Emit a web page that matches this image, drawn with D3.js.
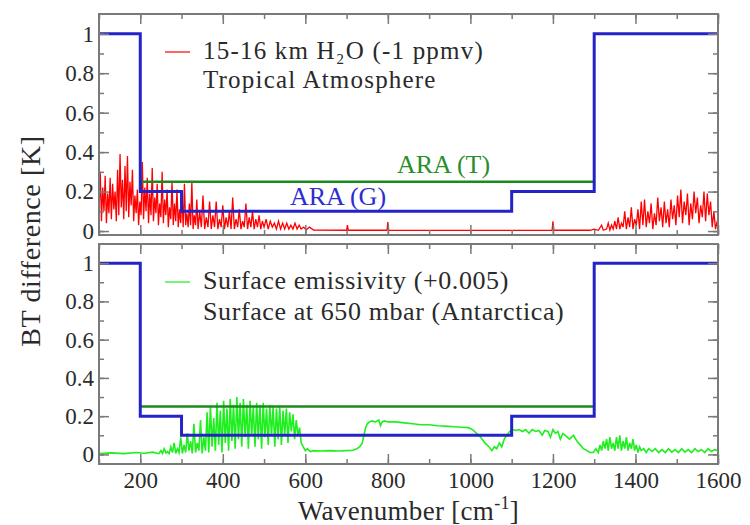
<!DOCTYPE html>
<html>
<head>
<meta charset="utf-8">
<script src="https://cdn.jsdelivr.net/npm/d3@7"></script>
<style>
  body { margin: 0; background: #fff; }
  svg text { font-family: 'Liberation Serif', 'DejaVu Serif', 'Noto Serif', serif; }
</style>
</head>
<body>
<svg id="chart" width="750" height="525"></svg>
<script>
// ---- data ----
var xTicks = [200, 400, 600, 800, 1000, 1200, 1400, 1600];
var yTicks = [0, 0.2, 0.4, 0.6, 0.8, 1];

// ARA (G) step requirement, [from, to, value]
var araG = [[100, 200, 1], [200, 300, 0.2], [300, 1100, 0.1], [1100, 1300, 0.2], [1300, 1600, 1]];
// ARA (T) step requirement
var araT = [[200, 1300, 0.25]];

// 15-16 km H2O (-1 ppmv), tropical atmosphere  [wavenumber, BT difference]
var redSpectrum = [
  [100,0.08],[103,0.30],[106,0.05],[109,0.22],[112,0.10],[115,0.28],[118,0.04],[121,0.19],[124,0.09],[127,0.27],
  [130,0.06],[133,0.24],[136,0.11],[139,0.20],[142,0.05],[145,0.31],[148,0.08],[151,0.39],[154,0.12],[157,0.26],
  [160,0.06],[163,0.33],[166,0.10],[169,0.38],[172,0.07],[175,0.25],[178,0.13],[181,0.31],[184,0.05],[187,0.18],
  [190,0.09],[193,0.21],[196,0.03],[199,0.15],[202,0.08],[205,0.35],[208,0.06],[211,0.22],[214,0.10],[217,0.27],
  [220,0.04],[223,0.19],[226,0.08],[229,0.32],[232,0.05],[235,0.17],[238,0.09],[241,0.24],[244,0.03],[247,0.14],
  [250,0.07],[253,0.30],[256,0.04],[259,0.16],[262,0.08],[265,0.21],[268,0.02],[271,0.12],[274,0.06],[277,0.25],
  [280,0.03],[283,0.14],[286,0.05],[289,0.21],[292,0.02],[295,0.11],[298,0.04],[301,0.18],[304,0.02],[307,0.24],
  [310,0.03],[313,0.09],[316,0.02],[319,0.14],[322,0.03],[325,0.25],[328,0.01],[331,0.08],[334,0.03],[337,0.16],
  [340,0.01],[344,0.10],[348,0.02],[352,0.18],[356,0.01],[360,0.07],[364,0.02],[368,0.15],[372,0.01],[376,0.08],
  [380,0.02],[384,0.15],[388,0.01],[392,0.06],[396,0.02],[400,0.13],[404,0.01],[408,0.07],[412,0.02],[416,0.10],
  [420,0.01],[424,0.17],[428,0.01],[432,0.06],[436,0.02],[440,0.11],[444,0.01],[448,0.05],[452,0.02],[456,0.14],
  [460,0.01],[464,0.07],[468,0.02],[472,0.10],[476,0.01],[480,0.06],[484,0.02],[488,0.08],[492,0.01],[496,0.05],
  [500,0.02],[505,0.06],[510,0.01],[515,0.05],[520,0.02],[525,0.04],[530,0.01],[535,0.05],[540,0.01],[545,0.04],
  [550,0.01],[555,0.04],[560,0.01],[565,0.03],[570,0.01],[575,0.04],[580,0.01],[585,0.03],[590,0.01],[596,0.02],
  [602,0.005],[610,0.02],[620,0.005],[700,0.004],[702,0.03],[704,0.004],[798,0.004],[800,0.045],[802,0.004],
  [1100,0.003],[1198,0.004],[1200,0.05],[1202,0.004],[1290,0.004],[1300,0.01],[1310,0.004],[1318,0.03],[1322,0.004],
  [1330,0.01],[1334,0.04],[1338,0.005],[1342,0.03],[1346,0.01],[1350,0.05],[1354,0.01],[1358,0.07],[1362,0.01],[1366,0.04],
  [1370,0.02],[1374,0.10],[1378,0.01],[1382,0.07],[1386,0.02],[1390,0.12],[1394,0.01],[1398,0.06],[1402,0.03],[1406,0.11],
  [1410,0.01],[1414,0.15],[1418,0.03],[1422,0.16],[1426,0.02],[1430,0.10],[1434,0.04],[1438,0.14],[1442,0.01],[1446,0.09],
  [1450,0.03],[1454,0.17],[1458,0.05],[1462,0.12],[1466,0.02],[1470,0.15],[1474,0.04],[1478,0.11],[1482,0.02],[1486,0.16],
  [1490,0.06],[1494,0.13],[1498,0.03],[1502,0.18],[1506,0.07],[1510,0.21],[1514,0.04],[1518,0.15],[1522,0.08],[1526,0.19],
  [1530,0.03],[1534,0.14],[1538,0.06],[1542,0.20],[1546,0.09],[1550,0.17],[1554,0.04],[1558,0.13],[1562,0.07],[1566,0.20],
  [1570,0.05],[1574,0.19],[1578,0.08],[1582,0.15],[1586,0.02],[1590,0.10],[1594,0.01],[1597,0.04],[1600,0.02]
];

// surface emissivity (+0.005), surface at 650 mbar (Antarctica)
var greenSpectrum = [
  [100,0.005],[130,0.008],[160,0.004],[190,0.01],[210,0.006],[230,0.012],[245,0.004],[250,0.02],[254,0.005],[258,0.03],
  [262,0.008],[266,0.015],[270,0.004],[274,0.04],[278,0.01],[282,0.06],[286,0.005],[290,0.03],[294,0.01],[298,0.09],
  [302,0.005],[306,0.05],[310,0.01],[314,0.11],[318,0.02],[322,0.07],[326,0.005],[330,0.16],[334,0.01],[338,0.06],
  [342,0.02],[346,0.18],[350,0.005],[354,0.09],[358,0.02],[362,0.22],[366,0.01],[370,0.25],[374,0.04],[378,0.19],
  [382,0.02],[386,0.27],[390,0.05],[394,0.23],[398,0.01],[402,0.28],[406,0.06],[410,0.24],[414,0.02],[418,0.29],
  [422,0.07],[426,0.26],[430,0.03],[434,0.30],[438,0.08],[442,0.27],[446,0.04],[450,0.29],[454,0.09],[458,0.26],
  [462,0.03],[466,0.28],[470,0.10],[474,0.25],[478,0.04],[482,0.27],[486,0.08],[490,0.26],[494,0.03],[498,0.27],
  [502,0.09],[506,0.24],[510,0.05],[514,0.26],[518,0.10],[522,0.25],[526,0.04],[530,0.24],[534,0.08],[538,0.25],
  [542,0.05],[546,0.23],[550,0.10],[554,0.24],[558,0.06],[562,0.22],[566,0.12],[570,0.21],[574,0.08],[578,0.18],
  [582,0.10],[586,0.14],[590,0.06],[595,0.04],[600,0.02],[605,0.03],[612,0.015],[620,0.02],[640,0.018],[660,0.02],
  [680,0.018],[700,0.02],[715,0.022],[725,0.03],[732,0.04],[738,0.06],[742,0.10],[746,0.14],[750,0.16],[755,0.17],
  [762,0.175],[770,0.17],[778,0.18],[782,0.15],[786,0.17],[792,0.175],[800,0.17],[820,0.17],[840,0.165],[860,0.16],
  [880,0.155],[900,0.155],[920,0.15],[940,0.148],[960,0.145],[980,0.142],[995,0.14],[1005,0.13],[1015,0.11],[1025,0.09],
  [1035,0.06],[1045,0.04],[1052,0.02],[1058,0.04],[1064,0.03],[1070,0.06],[1076,0.04],[1082,0.08],[1088,0.10],[1095,0.12],
  [1102,0.13],[1110,0.125],[1118,0.13],[1126,0.12],[1134,0.13],[1142,0.11],[1150,0.13],[1158,0.12],[1166,0.125],[1174,0.10],
  [1180,0.125],[1188,0.12],[1194,0.09],[1200,0.13],[1206,0.11],[1212,0.12],[1218,0.08],[1224,0.11],[1230,0.10],[1240,0.08],
  [1250,0.10],[1258,0.07],[1266,0.05],[1274,0.03],[1282,0.02],[1290,0.01],[1298,0.01],[1304,0.03],[1310,0.01],[1314,0.05],
  [1318,0.02],[1322,0.07],[1326,0.03],[1330,0.08],[1334,0.02],[1338,0.09],[1342,0.03],[1346,0.06],[1350,0.02],[1354,0.09],
  [1358,0.03],[1362,0.10],[1366,0.02],[1370,0.07],[1374,0.03],[1378,0.09],[1382,0.02],[1386,0.06],[1390,0.03],[1394,0.08],
  [1398,0.02],[1402,0.05],[1406,0.01],[1410,0.04],[1414,0.02],[1420,0.03],[1426,0.01],[1432,0.03],[1440,0.015],[1448,0.03],
  [1456,0.01],[1464,0.025],[1472,0.01],[1480,0.03],[1488,0.012],[1496,0.025],[1504,0.01],[1512,0.03],[1520,0.012],[1528,0.025],
  [1536,0.01],[1544,0.03],[1552,0.015],[1560,0.025],[1568,0.01],[1576,0.03],[1584,0.015],[1592,0.025],[1600,0.02]
];

var svg = d3.select("#chart");
var serif = "'Liberation Serif', 'DejaVu Serif', 'Noto Serif', serif";
var left = 99, right = 718;
var frameColor = "#7a7a7a", textColor = "#2a2a2a";

var x = d3.scaleLinear().domain([100, 1600]).range([left, right]);

// turn [from,to,value] steps into a polyline
function stepPoints(steps) {
  var pts = [];
  steps.forEach(function (s) { pts.push([s[0], s[2]]); pts.push([s[1], s[2]]); });
  return pts;
}

function drawPanel(top, bottom, yDomain, series, seriesColor, seriesWidth, id, showXLabels) {
  var y = d3.scaleLinear().domain(yDomain).range([bottom, top]);
  var g = svg.append("g");

  g.append("clipPath").attr("id", id).append("rect")
    .attr("x", left).attr("y", top).attr("width", right - left).attr("height", bottom - top);

  var line = d3.line().x(function (d) { return x(d[0]); }).y(function (d) { return y(d[1]); });
  var plot = g.append("g").attr("clip-path", "url(#" + id + ")");

  plot.append("path").datum(series)
    .attr("d", line).attr("fill", "none").attr("stroke", seriesColor).attr("stroke-width", seriesWidth);

  plot.append("path").datum(stepPoints(araT))
    .attr("d", line).attr("fill", "none").attr("stroke", "#1d8a1d").attr("stroke-width", 2.5);
  plot.append("path").datum(stepPoints(araG))
    .attr("d", line).attr("fill", "none").attr("stroke", "#2323c8").attr("stroke-width", 3);

  // axes, ticks pointing inward on all four sides
  var minorX = d3.range(100, 1601, 100), minorY = d3.range(0, 1.01, 0.1);
  function styleAxis(sel) {
    sel.attr("font-family", serif);
    sel.select(".domain").remove();
    sel.selectAll("line").attr("stroke", frameColor).attr("stroke-width", 1.5);
    sel.selectAll("text").attr("fill", textColor).attr("font-size", 23).style("font-family", serif);
  }
  g.append("g").attr("transform", "translate(0," + bottom + ")")
    .call(d3.axisBottom(x).tickValues(minorX).tickSize(-5).tickFormat("")).call(styleAxis);
  g.append("g").attr("transform", "translate(0," + bottom + ")")
    .call(d3.axisBottom(x).tickValues(xTicks).tickSize(-10).tickPadding(8)
      .tickFormat(showXLabels ? d3.format("d") : "")).call(styleAxis);
  g.append("g").attr("transform", "translate(0," + top + ")")
    .call(d3.axisTop(x).tickValues(minorX).tickSize(-5).tickFormat("")).call(styleAxis);
  g.append("g").attr("transform", "translate(0," + top + ")")
    .call(d3.axisTop(x).tickValues(xTicks).tickSize(-10).tickFormat("")).call(styleAxis);
  g.append("g").attr("transform", "translate(" + left + ",0)")
    .call(d3.axisLeft(y).tickValues(minorY).tickSize(-5).tickFormat("")).call(styleAxis);
  g.append("g").attr("transform", "translate(" + left + ",0)")
    .call(d3.axisLeft(y).tickValues(yTicks).tickSize(-10).tickPadding(5)
      .tickFormat(function (d) { return String(+d.toFixed(1)); })).call(styleAxis);
  g.append("g").attr("transform", "translate(" + right + ",0)")
    .call(d3.axisRight(y).tickValues(minorY).tickSize(-5).tickFormat("")).call(styleAxis);
  g.append("g").attr("transform", "translate(" + right + ",0)")
    .call(d3.axisRight(y).tickValues(yTicks).tickSize(-10).tickFormat("")).call(styleAxis);

  g.append("rect").attr("x", left).attr("y", top).attr("width", right - left).attr("height", bottom - top)
    .attr("fill", "none").attr("stroke", frameColor).attr("stroke-width", 2);

  return y;
}

drawPanel(14, 235, [-0.02, 1.1], redSpectrum, "#ff0000", 1.3, "clipTop", false);
drawPanel(244, 464, [-0.05, 1.1], greenSpectrum, "#1fef1f", 1.6, "clipBot", true);

function label(xp, yp, size, color, txt) {
  return svg.append("text").attr("x", xp).attr("y", yp).attr("font-size", size)
    .attr("fill", color).style("font-family", serif).text(txt);
}

// legends
svg.append("line").attr("x1", 165).attr("x2", 190).attr("y1", 52).attr("y2", 52)
  .attr("stroke", "#ff0000").attr("stroke-width", 1.2);
label(203, 59, 25, textColor, "15-16 km H₂O (-1 ppmv)").attr("letter-spacing", 1.2);
label(203, 88, 25, textColor, "Tropical Atmosphere").attr("letter-spacing", 1.2);

svg.append("line").attr("x1", 165).attr("x2", 190).attr("y1", 282).attr("y2", 282)
  .attr("stroke", "#1fef1f").attr("stroke-width", 1.2);
label(203, 289, 26, textColor, "Surface emissivity (+0.005)").attr("letter-spacing", 0.6);
label(203, 320, 26, textColor, "Surface at 650 mbar (Antarctica)").attr("letter-spacing", 0.6);

// step labels
label(397, 173, 26, "#2a8f2a", "ARA (T)");
label(290, 205, 26, "#2d2dd0", "ARA (G)");

// axis titles
var xl = label((left + right) / 2, 520, 27, textColor, null).attr("text-anchor", "middle")
  .attr("letter-spacing", 0.3);
xl.append("tspan").text("Wavenumber [cm");
xl.append("tspan").attr("font-size", 18).attr("dy", -11).text("-1");
xl.append("tspan").attr("dy", 11).text("]");

label(0, 0, 28, textColor, "BT difference [K]").attr("letter-spacing", 0.6)
  .attr("transform", "translate(40,241) rotate(-90)").attr("text-anchor", "middle");
</script>
</body>
</html>
